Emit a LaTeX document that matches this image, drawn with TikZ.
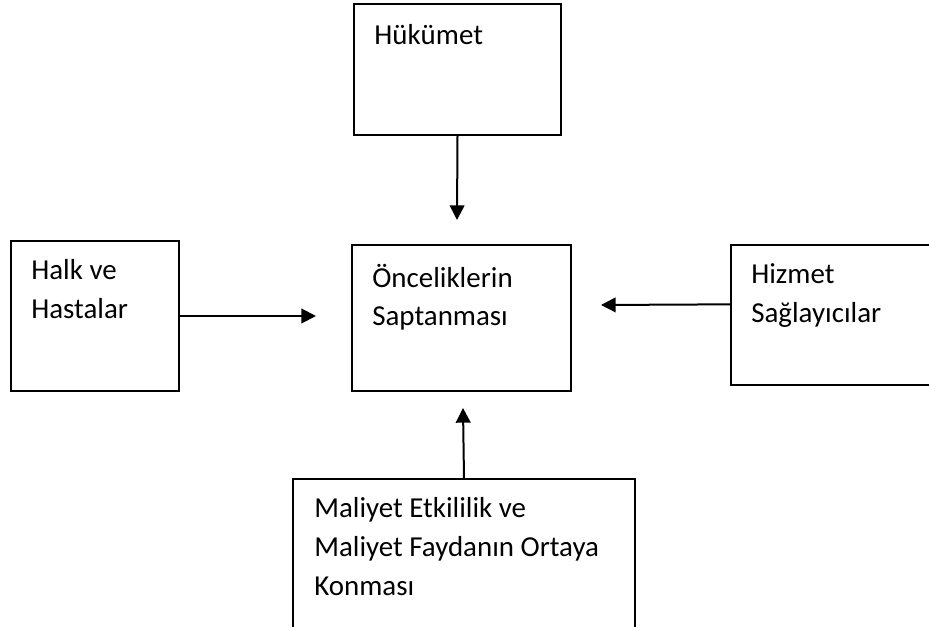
\documentclass[tikz,border=0pt]{standalone}
\usepackage{fontspec}
\setmainfont{Carlito}
\usetikzlibrary{arrows.meta}
\begin{document}
\begin{tikzpicture}[x=0.75pt,y=-0.75pt,
    box/.style={draw, line width=1.4pt, inner sep=0pt},
    txt/.style={anchor=north west, align=left, inner sep=0pt, font=\fontsize{21.7}{29}\selectfont,
      execute at begin node={\rule{0pt}{16pt}}},
    arr/.style={line width=1.5pt, -{Triangle[length=11pt,width=11pt]}}
]
\useasboundingbox (0,0) rectangle (929,627);
\clip (0,0) rectangle (929,627);
\node[box, minimum width=155.25pt, minimum height=98.25pt] (huk) at (457.5,69.5) {};
\node[box, minimum width=164.25pt, minimum height=109.5pt] (onc) at (461.5,318) {};
\node[box, minimum width=126pt, minimum height=112.5pt] (halk) at (95,316) {};
\node[box, minimum width=157.5pt, minimum height=105pt] (hiz) at (836,315) {};
\node[box, minimum width=256.5pt, minimum height=129pt] (mal) at (464,565) {};
\node[txt] (hukt) at ([shift={(21,19.5)}]huk.north west) {Hükümet};
\node[txt] (onct) at ([shift={(21,19.5)}]onc.north west) {Önceliklerin\\Saptanması};
\node[txt] (halkt) at ([shift={(21,19.5)}]halk.north west) {Halk ve\\Hastalar};
\node[txt] (hizt) at ([shift={(21,19.5)}]hiz.north west) {Hizmet\\Sağlayıcılar};
\node[txt] (malt) at ([shift={(22,19.5)}]mal.north west) {Maliyet Etkililik ve\\Maliyet Faydanın Ortaya\\Konması};
\coordinate (ta) at (457,220);
\coordinate (tb) at (316,316);
\coordinate (tc) at (601,305);
\coordinate (td) at (463,408);
\draw[arr] (huk.south) -- (ta);
\draw[arr] (halk.east) -- (tb);
\draw[arr] ([yshift=8pt]hiz.west) -- (tc);
\draw[arr] (mal.north) -- (td);
\end{tikzpicture}
\end{document}
